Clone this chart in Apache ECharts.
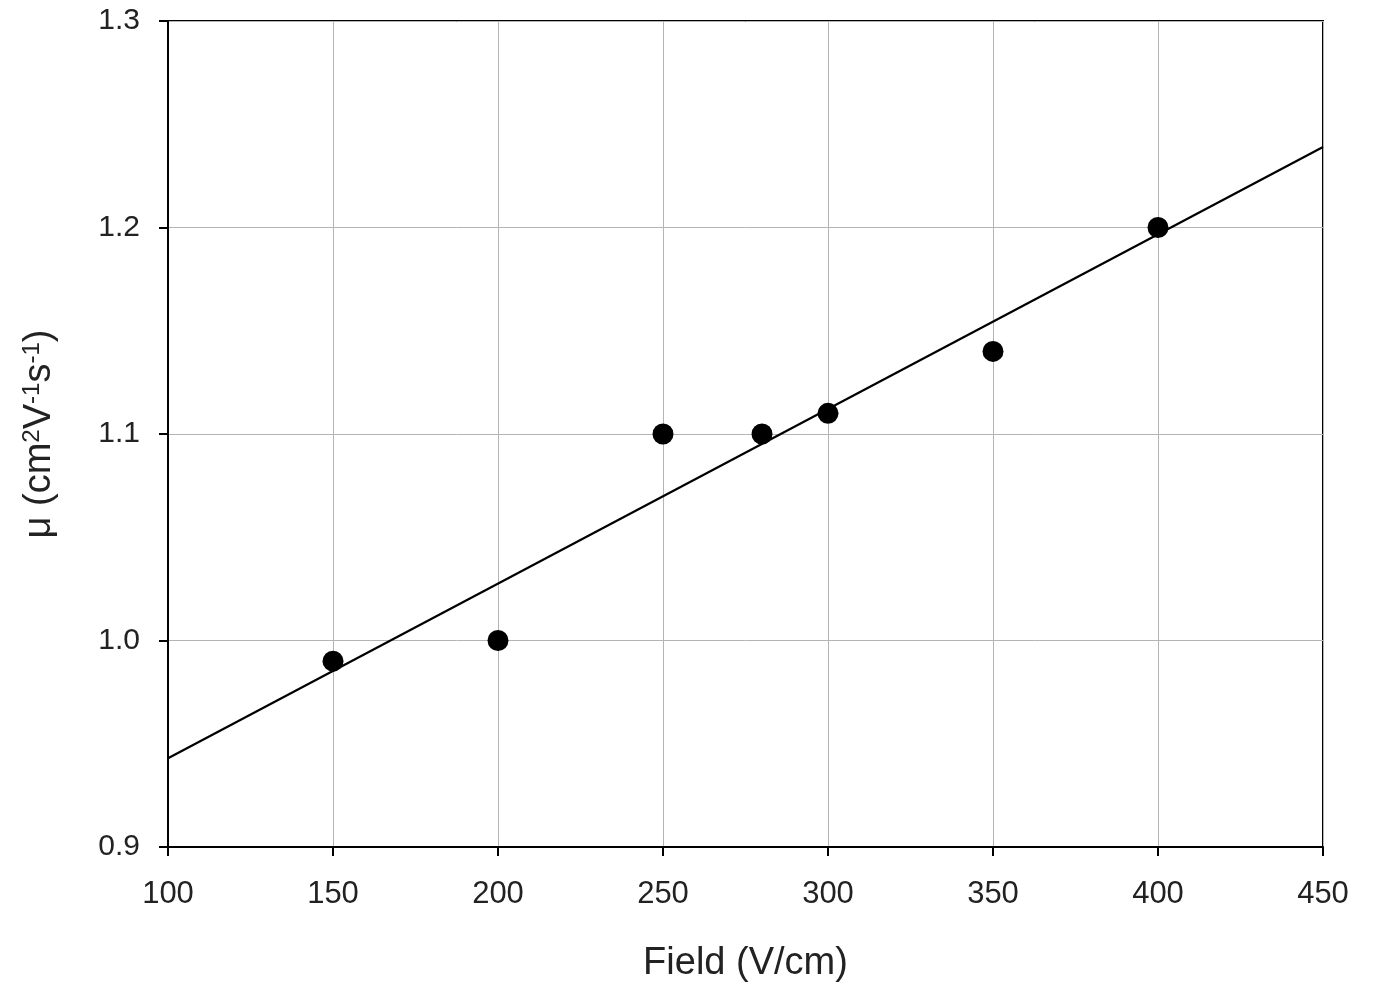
<!DOCTYPE html>
<html><head><meta charset="utf-8">
<script src="https://cdn.jsdelivr.net/npm/echarts@6/dist/echarts.min.js"></script>
<style>html,body{margin:0;padding:0;background:#fff}#c{width:1373px;height:988px}</style>
</head><body><div id="c"></div>
<script>
const fieldX = [150, 200, 250, 280, 300, 350, 400];
const mobilityY = [0.99, 1.00, 1.10, 1.10, 1.11, 1.14, 1.20];
const fitX = [100, 450];
const fitY = [0.943, 1.239];
const xTicks = [100, 150, 200, 250, 300, 350, 400, 450];
const yTicks = [0.9, 1.0, 1.1, 1.2, 1.3];

const chart = echarts.init(document.getElementById('c'));
const font = 'Arial, "Liberation Sans", sans-serif';
chart.setOption({
  animation: false,
  backgroundColor: '#fff',
  grid: { left: 168, right: 50, top: 21, bottom: 134, show: true, borderColor: '#000', borderWidth: 2 },
  xAxis: {
    type: 'value', min: 100, max: 450, interval: 50,
    name: 'Field (V/cm)', nameLocation: 'middle', nameGap: 98,
    nameTextStyle: { fontFamily: font, fontSize: 38, color: '#222' },
    axisLine: { lineStyle: { color: '#000', width: 2 } },
    axisTick: { show: true, length: 9, lineStyle: { color: '#000', width: 2 } },
    axisLabel: { fontFamily: font, fontSize: 31, color: '#222', margin: 32,
      formatter: v => xTicks.includes(v) ? String(v) : '' },
    splitLine: { show: true, lineStyle: { color: '#b4b4b4', width: 1 } }
  },
  yAxis: {
    type: 'value', min: 0.9, max: 1.3, interval: 0.1,
    name: '{a|μ (cm}{s|2}{a|V}{s|-1}{a|s}{s|-1}{a|)}', nameLocation: 'middle', nameGap: 108, nameRotate: 90,
    nameTextStyle: { fontFamily: font, color: '#222',
      rich: { a: { fontFamily: font, fontSize: 38, color: '#222' },
              s: { fontFamily: font, fontSize: 24, color: '#222', verticalAlign: 'top', padding: [0,0,16,0] } } },
    axisLine: { lineStyle: { color: '#000', width: 2 } },
    axisTick: { show: true, length: 9, lineStyle: { color: '#000', width: 2 } },
    axisLabel: { fontFamily: font, fontSize: 30, color: '#222', margin: 28,
      formatter: v => yTicks.find(t => Math.abs(t - v) < 1e-9).toFixed(1) },
    splitLine: { show: true, lineStyle: { color: '#b4b4b4', width: 1 } }
  },
  series: [
    { type: 'line', data: fitX.map((x, i) => [x, fitY[i]]), symbol: 'none',
      lineStyle: { color: '#000', width: 2.2 }, z: 2 },
    { type: 'scatter', data: fieldX.map((x, i) => [x, mobilityY[i]]), symbol: 'circle', symbolSize: 21,
      itemStyle: { color: '#000', opacity: 1 }, z: 3 }
  ]
});
</script></body></html>
